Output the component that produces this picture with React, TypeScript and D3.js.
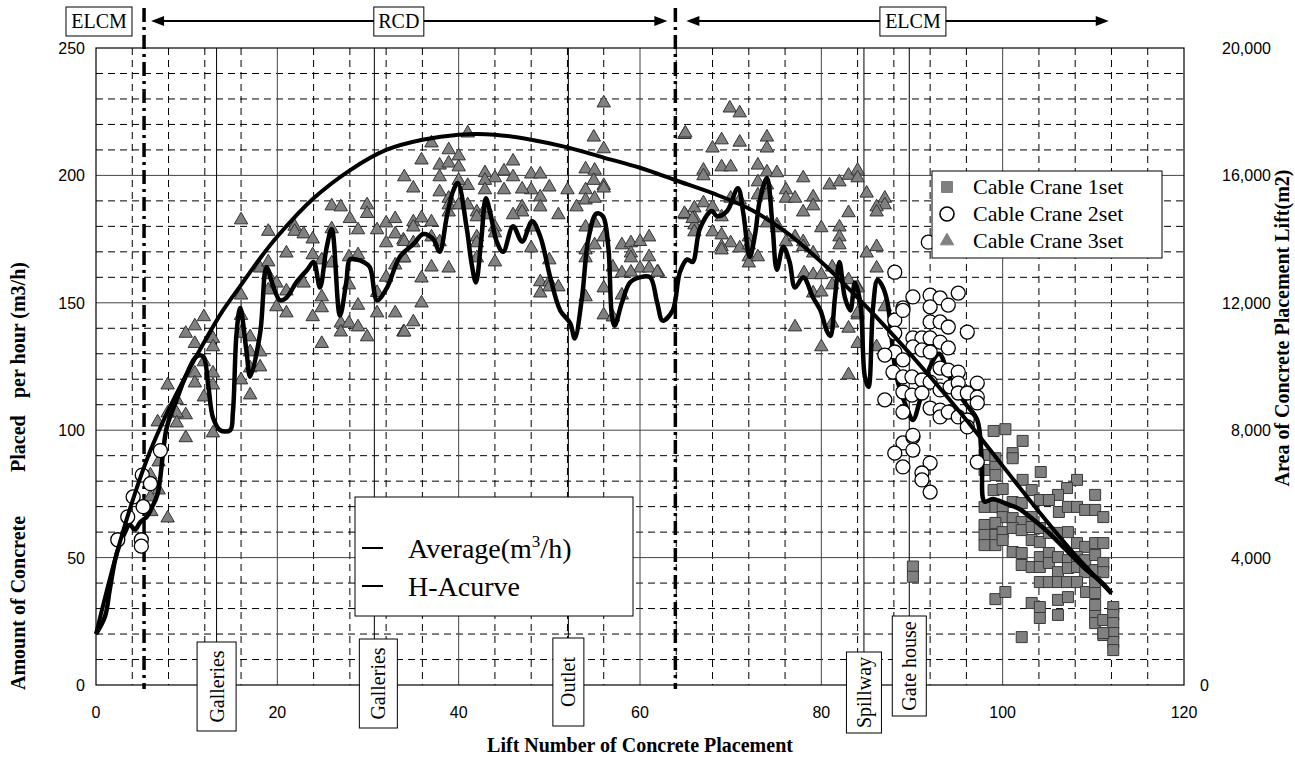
import React from "react";
import * as d3 from "d3";

// --- data ---
const xTicks = [0, 20, 40, 60, 80, 100, 120];
const yTicks = [0, 50, 100, 150, 200, 250];
const areaTicks = [0, 4000, 8000, 12000, 16000, 20000];

// H-A curve (smooth)
const haLift = [0, 2, 4, 6, 8, 10, 12, 14, 16, 18, 20, 24, 28, 32, 36, 40, 44, 48, 52, 56, 60, 64, 68, 72, 76, 80, 84, 88, 92, 96, 100, 104, 108, 112];
const haRate = [20, 48, 72, 92, 108, 122, 135, 147, 157, 167, 176, 191, 202, 210, 214, 216, 216, 214, 211, 207, 203, 198, 193, 187, 178, 166, 152, 137, 121, 104, 86, 68, 51, 36];

// running average (m3/h)
const avgLift = [0, 1, 1.5, 2.1, 2.6, 3.2, 3.7, 4.3, 4.9, 5.6, 6.2, 6.8, 7.8, 8.9, 10, 11.1, 11.8, 12.4, 12.9, 13.7, 14.8, 15.1, 15.5, 15.9, 16.6, 17, 18.1, 18.8, 19.5, 20.3, 21, 22.1, 23.3, 24, 24.7, 25.4, 26, 26.9, 27.6, 28, 28.7, 29.5, 30.2, 31, 32.1, 33.5, 35, 36.1, 37.2, 37.9, 38.7, 39.4, 39.9, 40.9, 41.4, 41.9, 42.5, 43, 43.5, 44.2, 44.9, 46, 47, 48.1, 49, 50.1, 51.2, 52.3, 52.8, 53.6, 54.3, 55.2, 55.9, 56.5, 56.9, 57.2, 58, 58.9, 60, 61.1, 61.9, 62.5, 63.6, 64.4, 65.2, 65.8, 66.6, 67.9, 68.5, 69.6, 70.8, 71.4, 72.1, 72.7, 73.2, 74, 74.6, 75.1, 75.8, 76.5, 77.1, 78, 79.1, 79.9, 80.6, 81, 81.5, 82, 82.6, 83.2, 83.7, 84.3, 84.8, 85.2, 85.7, 86.2, 86.8, 87.3, 88.3, 89.4, 90.1, 90.9, 92, 93, 94, 95, 96, 97.2, 97.7, 98, 98.9, 100.5, 101.9, 103, 105, 107, 109, 111, 112];
const avgRate = [20, 27, 37, 49, 55, 60, 63, 61, 64, 66, 70, 75, 101, 112, 122, 129, 129, 117, 105, 100, 100, 107, 138, 148, 131, 121, 138, 164, 157, 151, 152, 158, 163, 166, 156, 171, 179, 145, 158, 167, 167, 166, 164, 151, 156, 168, 173, 177, 175, 170, 184, 194, 197, 179, 166, 158, 175, 191, 185, 174, 170, 180, 174, 182, 176, 160, 147, 142, 136, 152, 175, 185, 184, 172, 145, 141, 150, 158, 160, 160, 150, 143, 147, 162, 167, 166, 179, 186, 184, 186, 195, 185, 168, 177, 190, 199, 181, 163, 172, 166, 156, 160, 152, 147, 139, 137, 152, 166, 152, 147, 158, 150, 121, 117, 148, 159, 156, 150, 121, 109, 104, 112, 125, 130, 122, 115, 110, 104, 88, 72, 73, 71, 69, 66, 60, 53, 46, 40, 36];

// Cable Crane 1set (squares)
const crane1 = [
  [99, 99.7], [100.3, 100.4], [102.2, 95.8], [101.1, 91], [101.1, 89], [104.2, 83.6], [98, 90.3], [99.2, 89], [98, 84.4], [99.2, 85.6],
  [99.2, 82.4], [102.2, 80.5], [108.2, 80.5], [107.1, 77.3], [106.1, 74.6], [110.2, 74.6], [99, 76.5], [100, 76.9], [103.2, 76.5], [104.1, 72.6],
  [105.1, 72.6], [101.1, 71.8], [98, 69.9], [99.2, 69.9], [100, 69.5], [102.1, 71.4], [106.2, 67.9], [107.2, 69.9], [108.2, 69.9], [109.1, 68.7],
  [110.2, 68.7], [111.1, 65.9], [100, 65.9], [101.1, 65.5], [102.1, 64], [103.2, 65.9], [98, 62.8], [99.2, 63.6], [98, 58.9], [99.2, 58.9],
  [98, 54.9], [99.2, 54.9], [100, 60], [100, 56.9], [101.1, 61.6], [101.1, 52.2], [102.1, 60.8], [103.2, 62], [103.2, 56.9], [104.1, 61.6],
  [104.1, 56.1], [105.1, 59.7], [106.1, 59.7], [107.2, 60], [108.2, 55.7], [109.1, 54.2], [110.2, 55.7], [111.1, 55.7], [102.1, 51.8], [102.1, 47.1],
  [103.2, 46.3], [104.1, 50.2], [104.1, 46.3], [105.1, 51.8], [105.1, 47.9], [106.1, 50.2], [106.1, 44.3], [107.2, 49], [107.2, 45.9], [108.2, 50.2],
  [108.2, 46.3], [109.1, 49], [109.1, 44.3], [110.2, 51], [110.2, 45.1], [111.1, 47.9], [111.1, 44.3], [104.1, 40.4], [105.1, 40.4], [106.1, 40.4],
  [107.1, 40.4], [108.2, 40.4], [109.2, 36.5], [110.2, 40.4], [110.2, 36.1], [106.1, 33.4], [107.2, 34.5], [99.2, 33.7], [100.3, 36.5], [103.2, 32.2],
  [104.1, 30.6], [104.1, 26.3], [106.1, 27.5], [102.1, 18.8], [110.2, 27.5], [110.2, 24.3], [111.1, 25.5], [111.1, 19.6], [112.2, 30.6], [112.2, 27.5],
  [112.2, 24.3], [112.2, 20.4], [112.2, 16.9], [112.2, 13.7], [110.2, 31.4], [111.1, 20.4], [90.1, 46.5], [90.1, 42.5],
];

// Cable Crane 2set (open circles)
const crane2 = [
  [2.4, 57], [3.5, 66], [4.1, 73.8], [5.1, 82.4], [5, 57], [5, 54.5], [5.2, 70], [6, 79], [7.1, 92],
  [90.1, 152.3], [92, 153], [93.1, 151.9], [95.1, 153.8], [89, 148], [92, 148.4], [94, 149.1], [88.1, 143.2], [92, 142.5], [93.1, 142.5], [94, 140.5],
  [96.1, 138.5], [88.1, 138.1], [90.1, 136.2], [91.1, 136.2], [92, 136.2], [93.1, 134.6], [94, 132.3], [90.1, 132.7], [91.1, 131.5], [88.1, 130.7],
  [87, 129.5], [89, 127.6], [92, 130.7], [93.1, 124.4], [94, 123.6], [95.1, 122.8], [87.9, 122.8], [89, 120.9], [90, 120.9], [91.1, 119.7],
  [92, 118.9], [93.1, 115.8], [94.2, 117], [95.1, 118.5], [97.2, 118.5], [95.1, 114.6], [96.1, 114.6], [97.2, 113], [97.2, 110.7], [89, 115],
  [90, 113.8], [91.1, 114.6], [92, 108.7], [93.1, 107.9], [93.1, 105.2], [94, 107.1], [95.1, 105.2], [96.1, 104], [96.1, 101.3], [87, 111.9],
  [89, 107.1], [89, 95], [90.1, 97.3], [90.1, 92.2], [88.1, 91], [89, 85.6], [92, 87.1], [91.1, 83.2], [91.1, 80.5], [92, 75.7],
  [97.2, 87.5], [88.1, 162], [91.8, 173.8], [89, 147], [90.1, 98],
];

// Cable Crane 3set (triangles)
const crane3 = [
  [16, 182.5], [19, 178], [21.9, 180], [21.9, 178], [22.9, 177], [23.9, 175], [26, 188], [27, 187.6], [28, 183], [29.9, 188.4],
  [29.9, 185], [31, 178.6], [32, 181.3], [33, 183], [33, 177], [32, 173.5], [33.9, 174.6], [33.9, 167.6], [28.9, 178.6], [21, 169.5],
  [18.1, 163.6], [19, 166], [19, 161], [19, 155], [19.9, 157.7], [21, 154.6], [19.9, 148.4], [21, 146], [23.9, 168.8], [22.9, 157.7],
  [24.9, 166.8], [26, 165.6], [26, 179], [27.9, 168], [28.9, 168.8], [27.9, 157], [24.9, 152.3], [24.9, 148], [23.9, 144.5], [28.9, 149],
  [31, 154], [31, 146], [33, 146], [32, 160], [33, 164.8], [27, 142], [27, 138.5], [27.9, 142], [28.9, 140.5], [29.9, 136.6],
  [24.9, 134], [33.9, 138.5], [16, 153], [16, 145], [16, 138], [17, 136.6], [17, 130.7], [18.1, 130.7], [17, 124.4], [18.1, 124.8],
  [16, 119.7], [17, 113.8], [11.9, 144.5], [10.9, 140.9], [9.9, 138], [10.9, 134], [12.9, 136], [12.9, 132.7], [11.9, 126.8], [12.9, 122.4],
  [10.9, 122.4], [10.9, 118.5], [12.9, 117.7], [11.9, 113], [7.9, 117.7], [8.9, 111.9], [9.9, 106], [8.9, 106.7], [7.9, 106.7], [6.8, 103.2],
  [8.9, 102.8], [9.9, 97], [12.9, 98.9], [6.9, 87.5], [6, 82.4], [6.9, 76.5], [6, 73.8], [6.1, 68], [7.9, 65.5],
  [56, 228.4], [64.9, 216], [41, 216.6], [37, 212.7], [54.9, 215], [56, 210.4], [38.9, 210], [35.9, 206], [40, 207.6], [46, 205.6],
  [37.9, 204], [38.9, 204.8], [40, 203.3], [34, 199.4], [35, 195], [37.9, 199.4], [42.9, 201], [45, 201.7], [46, 199.4], [44, 199],
  [42.9, 198], [48, 200.5], [49, 200.5], [50, 195.4], [52, 194.3], [54, 202.5], [55, 202], [54.9, 198], [56, 196], [56, 195],
  [54, 194.3], [54, 190.3], [55, 191], [53, 187.6], [48, 194.3], [47, 194.6], [45, 194.3], [42.9, 194.3], [41, 196], [40, 198],
  [37.9, 193.5], [38.9, 191], [49, 191.5], [49, 187.6], [47, 187.6], [47, 185.6], [46, 184.5], [51, 184.5], [38.9, 188.4], [40, 188.4],
  [41, 188.4], [38.9, 185.6], [42, 185.6], [43, 184.5], [43, 187.2], [42, 183.7], [34, 174], [35, 181.7], [35, 179.7], [35.9, 183.3],
  [37, 181.7], [37, 175.8], [37.9, 173.9], [34, 167.6], [35, 173.5], [37, 164], [38.9, 163.6], [42, 175.8], [42, 173.5], [42, 167.6],
  [44, 179.7], [44, 177.4], [44, 166], [48, 179.7], [48, 171.5], [50, 166.8], [49, 158.2], [50, 158.2], [51, 156.2], [49, 153.8],
  [50, 156.2], [54, 179.7], [54, 170.7], [54, 167.6], [55, 172.7], [55, 181.3], [56, 175.8], [54, 152.3], [56, 155.8], [56, 145.2],
  [57, 144.4], [57, 164], [58, 172.7], [59, 173.5], [60, 174], [61, 175.8], [58, 161.7], [59, 169.5], [59, 167.6], [60, 163.6],
  [61, 163.6], [61, 168], [62, 162], [58, 153], [59, 162], [35.9, 159.7], [35.9, 149.9], [35, 142.5], [34, 138.5],
  [69.9, 226.4], [71, 224.5], [65, 216.6], [69, 213.9], [71, 213], [74, 215], [68, 210.7], [74, 210.7], [67, 202], [67, 199.8],
  [69, 203.3], [70, 203.3], [73, 204], [73, 197.4], [74, 201.3], [75.1, 201], [78, 199], [74, 196.2], [80.9, 196.2], [82, 197.4],
  [83, 200], [84, 202], [84, 199], [73, 192.3], [74, 192.3], [76.1, 194.3], [76.1, 191], [77.1, 191], [79.1, 191.5], [79.1, 188],
  [78, 185.6], [85, 193], [87, 191], [87, 188.4], [86.1, 187.6], [86.1, 185.6], [83, 185.3], [65, 184.5], [66, 187.2], [66, 183.3],
  [66, 180.5], [66, 177.8], [67, 189.2], [68, 187.6], [69, 183.7], [68, 177.8], [69, 176.6], [70, 191], [71, 190.3], [70, 173.5],
  [69, 172], [69, 170.7], [71, 171.5], [72, 175.8], [72, 172.7], [72, 168], [72, 165.6], [73, 168], [75.1, 180.5], [74, 181.3],
  [75.1, 179.4], [76.1, 173.9], [77.1, 175.8], [78, 173.9], [78, 172], [79.1, 169.5], [80, 179.4], [82, 179.7], [82, 175.8], [82, 172.7],
  [85, 169.5], [86.1, 172], [86.1, 163.6], [81.2, 164], [78.1, 161.7], [79.1, 161], [80, 161], [83, 159], [84, 156.2], [79.1, 153.8],
  [80, 154.2], [81.2, 157], [87, 148.4], [84, 145.2], [83, 140], [81.2, 142], [77.1, 140.5], [80, 132.7], [84, 134], [86.1, 132.7],
  [83, 121.7], [61.9, 162], [84, 155.8], [84, 146], [64.9, 185], [65.8, 183],
];

// construction method zones and structure labels
const zoneBounds = [5.3, 63.9];
const zoneNames = ["ELCM", "RCD", "ELCM"];
const structureNames = ["Galleries", "Galleries", "Outlet", "Spillway", "Gate house"];
const structureLifts = [13.3, 30.7, 52.1, 84.7, 89.7];
const seriesNames = ["Cable Crane 1set", "Cable Crane 2set", "Cable Crane 3set"];

const SERIF = "'Liberation Serif', 'Times New Roman', serif";
const SANS = "'Liberation Sans', Arial, sans-serif";

export default function App() {
  const W = 1295, H = 760;
  const left = 96, right = 1184, top = 48, bottom = 685;

  const x = d3.scaleLinear().domain([0, 120]).range([left, right]);
  const y = d3.scaleLinear().domain([0, 250]).range([bottom, top]);
  const y2 = d3.scaleLinear().domain([0, 20000]).range([bottom, top]);

  const minorX = d3.range(4, 120, 4).filter((v) => v % 20 !== 0);
  const minorY = d3.range(10, 250, 10).filter((v) => v % 50 !== 0);

  const haLine = d3.line<number>().x((d, i) => x(haLift[i])).y((d) => y(d)).curve(d3.curveCatmullRom.alpha(0.5));
  const avgLine = d3.line<number>().x((d, i) => x(avgLift[i])).y((d) => y(d)).curve(d3.curveCatmullRom.alpha(0.5));

  const tri = d3.symbol(d3.symbolTriangle, 78)();
  const sq = d3.symbol(d3.symbolSquare, 121)();

  // label boxes under the x axis: [top, bottom, width]
  const boxLayout = [
    [642, 731, 39],
    [639, 728, 38],
    [638, 726, 31],
    [652, 733, 35],
    [616, 716, 34],
  ];

  const arrowY = 21;
  const head = (tx: number, dir: number) => `M${tx},${arrowY}L${tx - dir * 13},${arrowY - 5}L${tx - dir * 13},${arrowY + 5}Z`;
  const a1 = x(zoneBounds[0]) + 7, a2 = x(zoneBounds[1]) - 8, a3 = x(zoneBounds[1]) + 11, a4 = x(111.7);

  return (
    <svg width={W} height={H} style={{ position: "absolute", left: 0, top: 0, background: "#fff" }}>
      {/* minor grid */}
      <g stroke="#000" strokeWidth={1} strokeDasharray="7,5">
        {minorX.map((v) => (
          <line key={"mx" + v} x1={x(v)} x2={x(v)} y1={top} y2={bottom} />
        ))}
        {minorY.map((v) => (
          <line key={"my" + v} x1={left} x2={right} y1={y(v)} y2={y(v)} />
        ))}
      </g>
      {/* major grid */}
      <g stroke="#444" strokeWidth={1}>
        {xTicks.slice(1, -1).map((v) => (
          <line key={"gx" + v} x1={x(v)} x2={x(v)} y1={top} y2={bottom} />
        ))}
        {yTicks.slice(1, -1).map((v) => (
          <line key={"gy" + v} x1={left} x2={right} y1={y(v)} y2={y(v)} />
        ))}
      </g>
      {/* structure marker lines */}
      <g stroke="#000" strokeWidth={1}>
        {structureLifts.map((v, i) => (
          <line key={"sl" + i} x1={x(v)} x2={x(v)} y1={top} y2={boxLayout[i][0]} />
        ))}
      </g>
      <rect x={left} y={top} width={right - left} height={bottom - top} fill="none" stroke="#000" strokeWidth={1.2} />

      {/* zone boundaries */}
      <g stroke="#000" strokeWidth={3.5} strokeDasharray="14,5,3,5">
        {zoneBounds.map((v) => (
          <line key={"zb" + v} x1={x(v)} x2={x(v)} y1={8} y2={bottom + 4} />
        ))}
      </g>

      {/* data */}
      <g fill="#808080" stroke="#333" strokeWidth={1}>
        {crane3.map(([a, b], i) => (
          <path key={"t" + i} d={tri} transform={`translate(${x(a)},${y(b)})`} />
        ))}
      </g>
      <g fill="#808080" stroke="#3a3a3a" strokeWidth={1}>
        {crane1.map(([a, b], i) => (
          <path key={"s" + i} d={sq} transform={`translate(${x(a)},${y(b)})`} />
        ))}
      </g>
      <path d={avgLine(avgRate) || ""} fill="none" stroke="#000" strokeWidth={4.5} strokeLinejoin="round" />
      <g fill="#fff" stroke="#000" strokeWidth={1.3}>
        {crane2.map(([a, b], i) => (
          <circle key={"c" + i} cx={x(a)} cy={y(b)} r={7} />
        ))}
      </g>
      <path d={haLine(haRate) || ""} fill="none" stroke="#000" strokeWidth={4} strokeLinejoin="round" />

      {/* axes labels */}
      <g fontFamily={SANS} fontSize={16} fill="#000">
        {xTicks.map((v) => (
          <text key={"xt" + v} x={x(v)} y={bottom + 33} textAnchor="middle">{v}</text>
        ))}
        {yTicks.map((v) => (
          <text key={"yt" + v} x={left - 11} y={y(v) + 6} textAnchor="end">{v}</text>
        ))}
        {areaTicks.map((v) => (
          <text key={"at" + v} x={v === 0 ? right + 16 : right + 87} y={y2(v) + 6} textAnchor={v === 0 ? "start" : "end"}>
            {d3.format(",")(v)}
          </text>
        ))}
      </g>
      <g fontFamily={SERIF} fontWeight="bold" fontSize={20} fill="#000">
        <text x={640} y={752} textAnchor="middle">Lift Number of Concrete Placement</text>
        <text transform="translate(25,690) rotate(-90)" textAnchor="start">Amount of Concrete</text>
        <text transform="translate(25,472) rotate(-90)" textAnchor="start">Placed</text>
        <text transform="translate(25,398) rotate(-90)" textAnchor="start">per hour (m3/h)</text>
        <text transform="translate(1289,328) rotate(-90)" textAnchor="middle">Area of Concrete Placement Lift(m2)</text>
      </g>

      {/* zone arrows */}
      <g stroke="#000" strokeWidth={2}>
        <line x1={a1 + 6} x2={a2 - 6} y1={arrowY} y2={arrowY} />
        <line x1={a3 + 6} x2={a4 - 6} y1={arrowY} y2={arrowY} />
      </g>
      <g fill="#000">
        <path d={head(a1, -1)} />
        <path d={head(a2, 1)} />
        <path d={head(a3, -1)} />
        <path d={head(a4, 1)} />
      </g>
      {[
        [x(0.33), 66],
        [x(33.4), 50],
        [x(90.1), 66],
      ].map(([cx, w], i) => (
        <g key={"zn" + i}>
          <rect x={cx - w / 2} y={7} width={w} height={29} fill="#fff" stroke="#000" strokeWidth={1} />
          <text x={cx} y={28} textAnchor="middle" fontFamily={SERIF} fontSize={20}>{zoneNames[i]}</text>
        </g>
      ))}

      {/* structure label boxes */}
      {structureNames.map((n, i) => {
        const [b0, b1, bw] = boxLayout[i];
        const cx = x(structureLifts[i]) + (i === 1 ? 4 : 0);
        return (
          <g key={"sn" + i}>
            <rect x={cx - bw / 2} y={b0} width={bw} height={b1 - b0} fill="#fff" stroke="#000" strokeWidth={1} />
            <text transform={`translate(${cx + 7},${(b0 + b1) / 2}) rotate(-90)`} textAnchor="middle" fontFamily={SERIF} fontSize={20}>{n}</text>
          </g>
        );
      })}

      {/* line legend */}
      <g>
        <rect x={355} y={497} width={278} height={119} fill="#fff" stroke="#000" strokeWidth={1} />
        <line x1={362} x2={383} y1={548} y2={548} stroke="#000" strokeWidth={2} />
        <line x1={362} x2={383} y1={586} y2={586} stroke="#000" strokeWidth={2} />
        <text x={408} y={558} fontFamily={SERIF} fontSize={28}>
          Average(m<tspan dy={-11} fontSize={17}>3</tspan><tspan dy={11}>/h)</tspan>
        </text>
        <text x={408} y={596} fontFamily={SERIF} fontSize={28}>H-Acurve</text>
      </g>

      {/* marker legend */}
      <g>
        <rect x={932} y={171} width={230} height={87} fill="#fff" stroke="#000" strokeWidth={1} />
        <path d={sq} transform="translate(947,187)" fill="#808080" stroke="#808080" />
        <circle cx={947} cy={214} r={7} fill="#fff" stroke="#000" strokeWidth={1.6} />
        <path d={tri} transform="translate(947,241)" fill="#808080" stroke="#808080" />
        {seriesNames.map((n, i) => (
          <text key={n} x={973} y={194 + i * 27} fontFamily={SERIF} fontSize={22}>{n}</text>
        ))}
      </g>
    </svg>
  );
}
